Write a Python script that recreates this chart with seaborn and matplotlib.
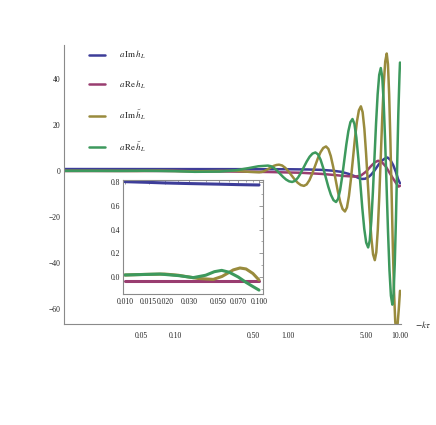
import matplotlib
matplotlib.use("Agg")
import matplotlib.pyplot as plt
import seaborn as sns
from matplotlib.ticker import FixedLocator, FixedFormatter, NullFormatter

# ---------------- data ----------------
kt_blue = [0.0103, 0.03, 0.1, 0.3, 1.0, 1.5, 2.0, 2.5, 3.0, 3.5, 4.0, 4.3, 4.6, 4.9, 5.2,
           5.5, 5.8, 6.1, 6.4, 6.8, 7.3, 7.75, 8.2, 8.7, 9.2, 9.6, 10.0]
im_h = [0.80, 0.79, 0.775, 0.76, 0.72, 0.62, 0.45, 0.1, -0.4, -1.3, -2.4, -3.1, -3.5, -3.4, -2.8,
        -1.8, -0.5, 1.0, 2.5, 4.2, 5.3, 5.8, 4.8, 2.5, -0.5, -3.5, -5.4]

kt_mag = [0.0103, 0.1, 0.35, 0.7, 1.3, 2.0, 2.5, 3.2, 4.0, 4.5, 5.0, 5.5, 6.0, 6.4,
          6.9, 7.5, 8.0, 8.6, 9.2, 9.7, 10.0]
re_h = [-0.03, -0.03, -0.3, -0.5, -0.8, -1.3, -1.7, -2.2, -2.5, -2.0, -0.3, 2.0, 3.8, 4.4,
        3.8, 1.8, -0.5, -3.0, -5.2, -6.8, -6.5]

kt_olive = [0.0103, 0.02, 0.0456, 0.072, 0.1, 0.15, 0.25, 0.35, 0.45, 0.56,
            0.589, 0.6196, 0.652, 0.6858, 0.7217, 0.7589, 0.7988, 0.84,
            0.8954, 0.9544, 1.0174, 1.0844, 1.1559, 1.2325, 1.3135, 1.4,
            1.4812, 1.5675, 1.6588, 1.7553, 1.8571, 1.9649, 2.0791, 2.2,
            2.3088, 2.4235, 2.5436, 2.6703, 2.8029, 2.9417, 3.0872, 3.24,
            3.3759, 3.5163, 3.6627, 3.815, 3.9737, 4.1389, 4.311, 4.49,
            4.6535, 4.8226, 4.9959, 5.1776, 5.3655, 5.5603, 5.761, 5.97,
            6.1563, 6.346, 6.5433, 6.7453, 6.9551, 7.1698, 7.3926, 7.62,
            7.8125, 8.0091, 8.2107, 8.4199, 8.6317, 8.849, 9.0718, 9.3,
            9.5, 9.75, 10.0]
im_ht = [0.017, 0.025, -0.02, 0.076, -0.025, -0.2, 0.0, 0.0, -0.4, -0.6,
         -0.47, -0.12, 0.42, 1.05, 1.68, 2.22, 2.57, 2.7,
         2.35, 1.35, -0.14, -1.9, -3.66, -5.15, -6.15, -6.5,
         -5.85, -4.0, -1.22, 2.05, 5.32, 8.1, 9.95, 10.6,
         9.53, 6.47, 1.9, -3.5, -8.9, -13.47, -16.53, -17.6,
         -15.87, -10.92, -3.53, 5.2, 13.93, 21.32, 26.27, 28.0,
         25.47, 18.23, 7.42, -5.35, -18.12, -28.93, -36.17, -38.7,
         -35.3, -25.57, -11.06, 6.1, 23.26, 37.77, 47.5, 50.9,
         46.31, 33.19, 13.6, -9.55, -32.7, -52.29, -65.41, -70.0,
         -67.0, -60.0, -52.0]

kt_green = [0.0103, 0.0182, 0.0323, 0.0527, 0.1, 0.15, 0.25, 0.35, 0.45, 0.55, 0.67,
            0.7129, 0.7584, 0.807, 0.8585, 0.9135, 0.9719, 1.034, 1.1,
            1.1674, 1.2391, 1.315, 1.3955, 1.4809, 1.572, 1.6683, 1.77,
            1.8662, 1.9676, 2.074, 2.1865, 2.3049, 2.4306, 2.5624, 2.7,
            2.8173, 2.938, 3.0638, 3.1953, 3.3327, 3.4754, 3.6241, 3.78,
            3.935, 4.0966, 4.264, 4.4391, 4.6203, 4.8084, 5.005, 5.21,
            5.3815, 5.5578, 5.7412, 5.9309, 6.1252, 6.327, 6.5343, 6.75,
            6.9545, 7.1614, 7.3756, 7.5977, 7.825, 8.059, 8.3022, 8.55,
            8.7613, 8.9803, 9.2028, 9.4292, 9.6634, 9.9038, 10.0]
re_ht = [0.017, 0.025, -0.005, 0.056, -0.11, -0.4, -0.3, 0.3, 1.2, 2.0, 2.3,
         2.03, 1.26, 0.11, -1.25, -2.61, -3.76, -4.53, -4.8,
         -4.31, -2.93, -0.85, 1.6, 4.05, 6.13, 7.51, 8.0,
         7.18, 4.85, 1.37, -2.75, -6.87, -10.35, -12.68, -13.5,
         -12.13, -8.23, -2.39, 4.5, 11.39, 17.23, 21.13, 22.5,
         20.38, 14.34, 5.32, -5.35, -16.02, -25.04, -31.08, -33.2,
         -30.24, -21.8, -9.2, 5.7, 20.6, 33.2, 41.64, 44.6,
         40.7, 29.57, 12.95, -6.7, -26.35, -42.97, -54.1, -58.0,
         -53.44, -40.42, -20.98, 2.0, 24.98, 42.0, 47.0]

# inset (0.01 .. 0.1)
kt_in_blue = [0.01, 0.015, 0.02, 0.03, 0.05, 0.07, 0.1]
in_im_h = [0.803, 0.797, 0.792, 0.787, 0.782, 0.778, 0.775]
kt_in_mag = [0.01, 0.03, 0.1]
in_re_h = [-0.03, -0.03, -0.03]
kt_in_olive = [0.01, 0.014, 0.0198, 0.025, 0.0289, 0.035, 0.0456, 0.053, 0.06, 0.0643,
               0.0721, 0.08, 0.09, 0.1]
in_im_ht = [0.017, 0.022, 0.025, 0.015, 0.003, -0.012, -0.02, 0.005, 0.04, 0.06,
            0.076, 0.068, 0.03, -0.025]
kt_in_green = [0.01, 0.0182, 0.025, 0.0323, 0.04, 0.0465, 0.0527, 0.06, 0.07, 0.08, 0.09, 0.1]
in_re_ht = [0.017, 0.025, 0.012, -0.005, 0.015, 0.045, 0.056, 0.04, 0.0, -0.045, -0.08, -0.11]

labels = [r"$a\,\mathrm{Im}\,h_L$", r"$a\,\mathrm{Re}\,h_L$",
          r"$a\,\mathrm{Im}\,\tilde{h}_L$", r"$a\,\mathrm{Re}\,\tilde{h}_L$"]

main_xticks = [0.05, 0.1, 0.5, 1.0, 5.0, 10.0]
main_xticklabels = ["0.05", "0.10", "0.50", "1.00", "5.00", "10.00"]
main_yticks = [-60, -40, -20, 0, 20, 40]
main_yticklabels = ["\u221260", "\u221240", "\u221220", "0", "20", "40"]
in_xticks = [0.010, 0.015, 0.020, 0.030, 0.050, 0.070, 0.100]
in_xticklabels = ["0.010", "0.015", "0.020", "0.030", "0.050", "0.070", "0.100"]
in_yticks = [0.0, 0.2, 0.4, 0.6, 0.8]
in_yticklabels = ["0.0", "0.2", "0.4", "0.6", "0.8"]

# ---------------- style ----------------
sns.set_style("white")
plt.rcParams['font.family'] = ['Liberation Serif', 'DejaVu Serif']
plt.rcParams['mathtext.fontset'] = 'stix'

colors = [(0.24, 0.24, 0.60), (0.60, 0.24, 0.44), (0.60, 0.547, 0.24), (0.24, 0.60, 0.365)]
gray = "#8a8a8a"
txt = "#222222"

W, H = 436, 425
fig = plt.figure(figsize=(W / 100, H / 100), dpi=100)
fig.patch.set_facecolor("white")

# main axes
ax = fig.add_axes([64 / W, (H - 324) / H, (401.4 - 64) / W, (324 - 45) / H])
series = [(kt_blue, im_h), (kt_mag, re_h), (kt_olive, im_ht), (kt_green, re_ht)]
for (xs, ys), c, lab in zip(series, colors, labels):
    sns.lineplot(x=xs, y=ys, ax=ax, color=c, lw=1.8, label=lab, sort=False,
                 estimator=None)
ax.set_xscale("log")
ax.set_xlim(0.01031, 10.29)
ax.set_ylim(-66.4, 54.6)
for s in ["top", "right"]:
    ax.spines[s].set_visible(False)
for s in ["left", "bottom"]:
    ax.spines[s].set_color(gray)
    ax.spines[s].set_linewidth(0.8)

minor_x = []
for dec in [0.01, 0.1, 1.0]:
    for m in range(1, 10):
        v = dec * m
        if not any(abs(v - t) < 1e-9 for t in main_xticks):
            minor_x.append(v)
ax.xaxis.set_major_locator(FixedLocator(main_xticks))
ax.xaxis.set_major_formatter(FixedFormatter(main_xticklabels))
ax.xaxis.set_minor_locator(FixedLocator(minor_x))
ax.xaxis.set_minor_formatter(NullFormatter())
ax.yaxis.set_major_locator(FixedLocator(main_yticks))
ax.yaxis.set_major_formatter(FixedFormatter(main_yticklabels))
ax.yaxis.set_minor_locator(FixedLocator([v for v in range(-65, 55, 5) if v % 20 != 0]))
ax.tick_params(which="both", direction="in", color=gray, labelcolor=txt, labelsize=5.5)
ax.tick_params(which="major", length=3.2, width=0.7)
ax.tick_params(which="minor", length=1.8, width=0.6)
ax.tick_params(axis="x", pad=6)
ax.tick_params(axis="y", pad=2.5)
ax.set_xlabel("")
ax.set_ylabel("")
ax.annotate(r"$-k\tau$", xy=(1, 0), xycoords="axes fraction", xytext=(9.5, 0),
            textcoords="offset points", ha="left", va="center", fontsize=6.5, color=txt)

leg = ax.legend(loc="upper left", bbox_to_anchor=(80.5 / W, (H - 41) / H),
                bbox_transform=fig.transFigure, frameon=False, fontsize=6.5,
                handlelength=1.8, handletextpad=1.6, labelspacing=1.9, borderpad=0.4)
for t in leg.get_texts():
    t.set_color(txt)

# inset axes
axi = fig.add_axes([123 / W, (H - 294) / H, 140 / W, 114 / H])
in_series = [(kt_in_blue, in_im_h), (kt_in_mag, in_re_h),
             (kt_in_olive, in_im_ht), (kt_in_green, in_re_ht)]
for (xs, ys), c in zip(in_series, colors):
    sns.lineplot(x=xs, y=ys, ax=axi, color=c, lw=2.2, sort=False, estimator=None,
                 legend=False)
axi.set_xscale("log")
axi.set_xlim(0.009663, 0.1071)
axi.set_ylim(-0.143, 0.817)
for s in axi.spines.values():
    s.set_color(gray)
    s.set_linewidth(0.8)
axi.xaxis.set_major_locator(FixedLocator(in_xticks))
axi.xaxis.set_major_formatter(FixedFormatter(in_xticklabels))
axi.xaxis.set_minor_locator(FixedLocator([0.025, 0.04, 0.06, 0.08, 0.09]))
axi.xaxis.set_minor_formatter(NullFormatter())
axi.yaxis.set_major_locator(FixedLocator(in_yticks))
axi.yaxis.set_major_formatter(FixedFormatter(in_yticklabels))
axi.yaxis.set_minor_locator(FixedLocator([-0.1, 0.1, 0.3, 0.5, 0.7]))
axi.tick_params(which="both", direction="in", color=gray, labelcolor=txt, labelsize=5.5,
                top=True, right=True)
axi.tick_params(which="major", length=2.8, width=0.6)
axi.tick_params(which="minor", length=1.6, width=0.5)
axi.tick_params(axis="x", pad=3)
axi.tick_params(axis="y", pad=2)
axi.set_xlabel("")
axi.set_ylabel("")

fig.savefig("out.png", dpi=100, facecolor="white")
